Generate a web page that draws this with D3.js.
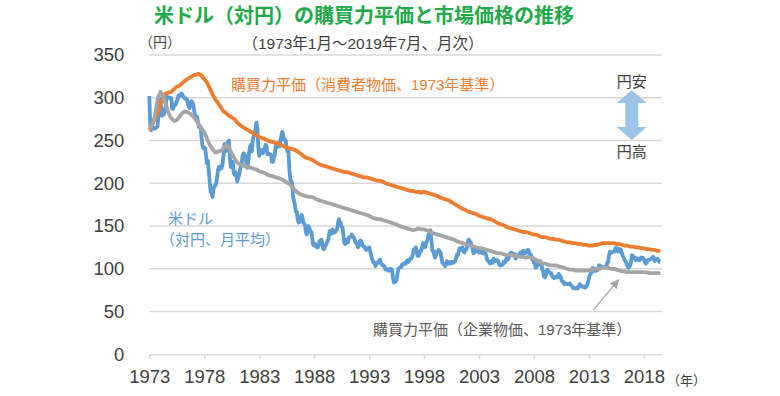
<!DOCTYPE html>
<html>
<head>
<meta charset="utf-8">
<script src="https://cdn.jsdelivr.net/npm/d3@7"></script>
<style>
  body { margin: 0; background: #fff; }
  svg { display: block; }
  text { font-family: "Liberation Sans", "Noto Sans CJK JP", sans-serif; }
</style>
</head>
<body>
<svg id="chart" width="780" height="396"></svg>
<script>
// monthly average USD/JPY, 1973/01 - 2019/07
const usdJpy = [
  302,270,262,265,265,265,264,265,265,267,279,280,
  299,288,279,280,281,284,291,301,301,300,300,300,
  299,287,287,292,291,293,296,298,303,302,303,305,
  304,302,300,299,299,298,294,290,288,293,296,295,
  292,285,279,277,278,273,266,267,266,254,244,241,
  242,241,232,223,226,214,201,190,190,184,193,196,
  197,200,206,216,219,219,217,218,223,232,246,240,
  238,245,249,250,230,219,220,225,214,210,213,210,
  202,206,209,215,220,224,233,235,230,232,224,218,
  225,235,243,245,237,251,255,259,263,271,264,242,
  232,236,239,238,235,240,241,245,243,234,235,234,
  234,233,225,225,230,233,243,242,245,247,243,248,
  254,260,258,251,251,249,241,237,237,215,204,203,
  200,184,179,175,167,167,158,154,155,156,163,162,
  154,153,151,143,140,145,150,147,143,143,135,128,
  127,129,128,125,125,128,133,133,134,129,123,123,
  127,128,131,133,138,144,141,141,146,142,143,143,
  145,146,153,158,154,154,149,148,139,130,129,134,
  134,131,137,137,138,140,138,137,135,131,130,129,
  125,128,133,133,131,127,126,126,123,122,124,124,
  125,121,117,112,110,107,107,103,105,107,108,109,
  111,106,105,104,104,102,99,100,99,98,98,100,
  100,99,90,84,85,85,87,94,100,101,102,102,
  105,105,106,107,106,109,110,108,110,112,112,114,
  118,123,122,125,119,115,115,118,121,121,126,130,
  129,125,129,132,135,141,141,145,134,121,121,117,
  113,116,120,120,122,120,119,113,107,106,105,103,
  105,109,106,106,108,106,108,108,107,108,109,112,
  117,116,121,124,122,122,125,121,119,122,122,126,
  133,134,131,131,127,123,118,119,121,124,121,122,
  119,120,119,120,118,118,119,118,115,110,109,108,
  106,107,109,107,112,110,109,110,110,109,105,104,
  104,105,105,108,107,109,112,111,111,115,118,119,
  116,118,117,117,112,114,116,116,117,119,118,117,
  121,121,118,119,121,122,122,117,115,116,111,112,
  107,107,101,103,104,107,106,109,106,100,97,91,
  90,93,98,99,96,96,95,95,91,90,89,90,
  91,90,90,94,92,91,87,85,85,82,83,83,
  82,82,82,83,81,80,79,77,77,77,77,78,
  77,79,82,81,80,79,79,79,78,79,81,84,
  89,93,94,98,101,97,100,98,99,98,100,104,
  104,102,102,102,102,102,102,103,107,108,116,120,
  119,119,120,120,120,124,123,124,120,120,123,122,
  118,115,113,110,109,106,104,101,102,104,108,116,
  115,113,113,110,112,111,112,110,111,113,113,113,
  111,108,106,107,110,110,111,111,112,112,114,113,
  109,111,111,112,110,108,108
];

// PPP (consumer prices, 1973 base), quarterly
const pppCpi = [
  262,268,275,282, 293,301,305,306, 307,310,313,314, 317,320,322,324,
  326,327,328,326, 322,318,311,304, 298,294,289,284, 282,279,277,275,
  271,268,266,264, 262,260,258,256, 254,253,252,250, 249,248,247,246,
  245,243,242,241, 240,239,237,235, 232,230,229,228, 226,224,222,221,
  220,219,218,217, 216,215,214,213, 213,212,211,210, 209,208,207,207,
  206,205,204,203, 203,202,200,199, 198,197,196,195, 194,193,192,191,
  191,190,190,189, 190,189,188,187, 186,185,183,182, 181,180,178,176,
  174,172,170,169, 167,166,165,164, 162,161,160,159, 158,157,155,153,
  152,151,149,148, 147,146,145,144, 143,143,142,141, 140,140,138,137,
  137,136,135,135, 134,134,133,132, 131,131,130,130, 129,129,128,128,
  127,127,128,128, 129,130,130,130, 130,130,129,129, 128,127,127,126,
  126,125,125,124, 124,123,123,122, 122,121,121
];

// PPP (corporate goods prices, 1973 base), quarterly
const pppCgpi = [
  263,268,278,298, 307,302,292,282, 276,273,274,278, 282,284,283,281,
  278,274,269,264, 260,252,245,240, 236,237,238,241, 245,241,235,229,
  224,222,221,220, 219,218,217,216, 214,213,212,210, 209,208,207,206,
  205,203,201,199, 196,192,189,187, 186,185,184,184, 183,181,180,179,
  178,177,176,175, 174,173,172,171, 170,169,168,167, 166,165,164,163,
  162,160,159,158, 158,157,156,155, 154,153,152,150, 149,148,147,146,
  145,146,147,146, 146,145,144,142, 141,140,139,138, 137,136,135,134,
  132,131,130,129, 128,127,126,125, 124,124,123,122, 121,120,119,118,
  118,117,116,116, 116,115,115,114, 114,113,114,113, 112,110,108,106,
  106,105,104,104, 104,103,102,101, 100,99,99,98, 98,98,98,98,
  98,99,99,100, 100,101,101,101, 100,100,99,98, 97,97,96,96,
  96,96,96,96, 96,96,95,95, 95,95,95
];

const yTicks = [0, 50, 100, 150, 200, 250, 300, 350];
const xTicks = [1973, 1978, 1983, 1988, 1993, 1998, 2003, 2008, 2013, 2018];

const svg = d3.select("#chart");
const x = d3.scaleLinear().domain([1973, 2019.65]).range([149.3, 662]);
const y = d3.scaleLinear().domain([0, 350]).range([354.3, 55]);

// gridlines
svg.append("g").selectAll("line")
  .data(yTicks.filter(d => d > 0))
  .enter().append("line")
  .attr("x1", x.range()[0]).attr("x2", x.range()[1])
  .attr("y1", d => y(d)).attr("y2", d => y(d))
  .attr("stroke", "#d9d9d9").attr("stroke-width", 1.5);

// axes
const gx = svg.append("g")
  .attr("transform", "translate(0," + y(0) + ")")
  .call(d3.axisBottom(x).tickValues(xTicks).tickFormat(d3.format("d"))
    .tickSize(5).tickSizeOuter(0).tickPadding(11));
gx.select(".domain").attr("stroke", "#d9d9d9").attr("stroke-width", 1.5);
gx.selectAll(".tick line").attr("stroke", "#d9d9d9").attr("stroke-width", 1.5);
gx.selectAll(".tick text").attr("font-size", 18.5).attr("fill", "#404040")
  .attr("font-family", "Liberation Sans");

const gy = svg.append("g")
  .attr("transform", "translate(" + x.range()[0] + ",0)")
  .call(d3.axisLeft(y).tickValues(yTicks).tickSize(0).tickPadding(25));
gy.select(".domain").remove();
gy.selectAll(".tick text").attr("font-size", 18.5).attr("fill", "#404040")
  .attr("font-family", "Liberation Sans");

// lines
const monthly = d3.line().x((d, i) => x(1973 + i / 12)).y(d => y(d));
const quarterly = d3.line().x((d, i) => x(1973 + i / 4)).y(d => y(d));

svg.append("path").datum(usdJpy).attr("d", monthly)
  .attr("fill", "none").attr("stroke", "#5b9bd5").attr("stroke-width", 3.8)
  .attr("stroke-linejoin", "round");
svg.append("path").datum(pppCpi).attr("d", quarterly)
  .attr("fill", "none").attr("stroke", "#ed7d31").attr("stroke-width", 3.8)
  .attr("stroke-linejoin", "round");
svg.append("path").datum(pppCgpi).attr("d", quarterly)
  .attr("fill", "none").attr("stroke", "#a5a5a5").attr("stroke-width", 3.8)
  .attr("stroke-linejoin", "round");

// titles
svg.append("text").attr("x", 364).attr("y", 23).attr("text-anchor", "middle")
  .attr("font-size", 20).attr("font-weight", "bold").attr("fill", "#22a94a")
  .attr("font-family", "Noto Sans CJK JP")
  .text("米ドル（対円）の購買力平価と市場価格の推移");
svg.append("text").attr("x", 363).attr("y", 49).attr("text-anchor", "middle")
  .attr("font-size", 15.5).attr("fill", "#404040")
  .text("（1973年1月～2019年7月、月次）");
svg.append("text").attr("x", 139).attr("y", 47)
  .attr("font-size", 14).attr("fill", "#404040").text("（円）");
svg.append("text").attr("x", 667).attr("y", 385)
  .attr("font-size", 13).attr("fill", "#404040").text("（年）");

// series labels
svg.append("text").attr("x", 231).attr("y", 90)
  .attr("font-size", 15).attr("fill", "#ed7d31")
  .text("購買力平価（消費者物価、1973年基準）");
svg.append("text").attr("x", 168).attr("y", 224)
  .attr("font-size", 15).attr("fill", "#5b9bd5").text("米ドル");
svg.append("text").attr("x", 160).attr("y", 245)
  .attr("font-size", 15).attr("fill", "#5b9bd5").text("（対円、月平均）");
svg.append("text").attr("x", 373).attr("y", 335)
  .attr("font-size", 15).attr("fill", "#595959")
  .text("購買力平価（企業物価、1973年基準）");

// pointer to corporate-goods PPP
svg.append("defs").append("marker")
  .attr("id", "tip").attr("viewBox", "0 0 10 10").attr("refX", 9).attr("refY", 5)
  .attr("markerWidth", 7).attr("markerHeight", 7).attr("orient", "auto")
  .append("path").attr("d", "M0,0 L10,5 L0,10 z").attr("fill", "#a5a5a5");
svg.append("line")
  .attr("x1", x(2013.4)).attr("y1", y(52))
  .attr("x2", x(2015.7)).attr("y2", y(87))
  .attr("stroke", "#a5a5a5").attr("stroke-width", 1.3)
  .attr("marker-end", "url(#tip)");

// 円安 / 円高 arrow
const ax = x(2016.9), aTop = y(309), aBot = y(250.5);
const hw = 15, sw = 6.5, hh = 13;
svg.append("path")
  .attr("d", "M" + ax + "," + aTop +
    " L" + (ax + hw) + "," + (aTop + hh) + " L" + (ax + sw) + "," + (aTop + hh) +
    " L" + (ax + sw) + "," + (aBot - hh) + " L" + (ax + hw) + "," + (aBot - hh) +
    " L" + ax + "," + aBot +
    " L" + (ax - hw) + "," + (aBot - hh) + " L" + (ax - sw) + "," + (aBot - hh) +
    " L" + (ax - sw) + "," + (aTop + hh) + " L" + (ax - hw) + "," + (aTop + hh) + " Z")
  .attr("fill", "#9dc3e6");
svg.append("text").attr("x", ax).attr("y", 87).attr("text-anchor", "middle")
  .attr("font-size", 15).attr("fill", "#404040").text("円安");
svg.append("text").attr("x", ax).attr("y", 157).attr("text-anchor", "middle")
  .attr("font-size", 15).attr("fill", "#404040").text("円高");
</script>
</body>
</html>
